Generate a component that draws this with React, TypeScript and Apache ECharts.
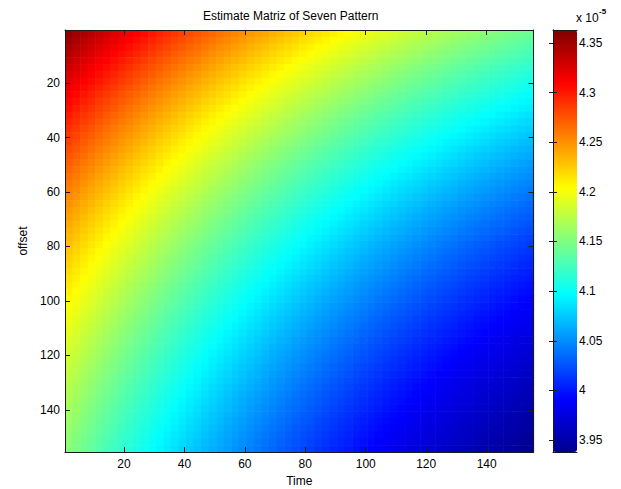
import React, { useEffect, useRef } from "react";
import * as echarts from "echarts";

const chartTitle = "Estimate Matriz of Seven Pattern";
const xAxisName = "Time";
const yAxisName = "offset";

// Centres of the matrix cells (Time and offset share the same sampling; each cell spans 2.5 steps)
const cellSpan = 2.5;
const sampleCenters = [
  1.75, 4.25, 6.75, 9.25, 11.75, 14.25, 16.75, 19.25, 21.75, 24.25,
  26.75, 29.25, 31.75, 34.25, 36.75, 39.25, 41.75, 44.25, 46.75, 49.25,
  51.75, 54.25, 56.75, 59.25, 61.75, 64.25, 66.75, 69.25, 71.75, 74.25,
  76.75, 79.25, 81.75, 84.25, 86.75, 89.25, 91.75, 94.25, 96.75, 99.25,
  101.75, 104.25, 106.75, 109.25, 111.75, 114.25, 116.75, 119.25, 121.75, 124.25,
  126.75, 129.25, 131.75, 134.25, 136.75, 139.25, 141.75, 144.25, 146.75, 149.25,
  151.75, 154.25,
];

// Estimates (×1e-5) along the first row (top of the matrix), left to right in Time
const firstRow = [
  4.3556, 4.3502, 4.3449, 4.3397, 4.3346, 4.3295, 4.3245, 4.3196, 4.3148, 4.31,
  4.3054, 4.3008, 4.2962, 4.2917, 4.2873, 4.283, 4.2787, 4.2745, 4.2704, 4.2663,
  4.2623, 4.2584, 4.2545, 4.2507, 4.2469, 4.2432, 4.2395, 4.2359, 4.2324, 4.2289,
  4.2254, 4.2221, 4.2187, 4.2154, 4.2122, 4.209, 4.2059, 4.2028, 4.1998, 4.1968,
  4.1938, 4.1909, 4.1881, 4.1853, 4.1825, 4.1798, 4.1771, 4.1744, 4.1718, 4.1693,
  4.1667, 4.1643, 4.1618, 4.1594, 4.157, 4.1547, 4.1524, 4.1501, 4.1479, 4.1457,
  4.1435, 4.1414,
];

// Estimates (×1e-5) along the first column (left of the matrix), top to bottom in offset
const firstColumn = [
  4.3556, 4.3505, 4.3455, 4.3406, 4.3357, 4.331, 4.3263, 4.3217, 4.3171, 4.3126,
  4.3082, 4.3039, 4.2996, 4.2953, 4.2912, 4.2871, 4.2831, 4.2791, 4.2752, 4.2714,
  4.2676, 4.2639, 4.2602, 4.2566, 4.253, 4.2495, 4.2461, 4.2427, 4.2393, 4.236,
  4.2328, 4.2296, 4.2264, 4.2233, 4.2203, 4.2173, 4.2143, 4.2114, 4.2086, 4.2057,
  4.2029, 4.2002, 4.1975, 4.1949, 4.1922, 4.1897, 4.1871, 4.1846, 4.1822, 4.1798,
  4.1774, 4.175, 4.1727, 4.1704, 4.1682, 4.166, 4.1638, 4.1617, 4.1596, 4.1575,
  4.1555, 4.1535,
];

const axisTickValues = [20, 40, 60, 80, 100, 120, 140];
const colorTickValues = [3.95, 4, 4.05, 4.1, 4.15, 4.2, 4.25, 4.3, 4.35];
const colorMin = 3.938;
const colorMax = 4.363;
const axisMin = 0.5;
const axisMax = 155.5;

// jet colour map, evenly spaced stops
const jetColors = [
  "#000090", "#0000ff", "#0080ff", "#00ffff", "#80ff80",
  "#ffff00", "#ff8000", "#ff0000", "#800000",
];

const FONT = "'Liberation Sans', Arial, Helvetica, sans-serif";
const INK = "#000000";
const FRAME = "#1a1a1a";

// Matrix cells: the two profiles combine additively around the shared corner value
function buildCells(): number[][] {
  const cells: number[][] = [];
  const corner = firstRow[0];
  for (let i = 0; i < sampleCenters.length; i++) {
    for (let j = 0; j < sampleCenters.length; j++) {
      cells.push([sampleCenters[i], sampleCenters[j], firstRow[i] + firstColumn[j] - corner]);
    }
  }
  return cells;
}

export default function App() {
  const ref = useRef<HTMLDivElement>(null);

  useEffect(() => {
    if (!ref.current) return;
    const chart = echarts.init(ref.current, null, { renderer: "svg" });

    const labelStyle = { color: INK, fontFamily: FONT, fontSize: 12 };
    const frameLine = { show: true, lineStyle: { color: FRAME, width: 1 } };

    const mainX = (position: "bottom" | "top", withLabels: boolean) => ({
      type: "value",
      gridIndex: 0,
      position,
      min: axisMin,
      max: axisMax,
      z: 10,
      name: withLabels ? xAxisName : "",
      nameLocation: "middle",
      nameGap: 22,
      nameTextStyle: { ...labelStyle },
      axisLine: frameLine,
      axisTick: {
        show: true,
        inside: true,
        length: 5,
        customValues: axisTickValues,
        lineStyle: { color: FRAME },
      },
      axisLabel: {
        show: withLabels,
        margin: 6,
        customValues: axisTickValues,
        ...labelStyle,
      },
      splitLine: { show: false },
    });

    const mainY = (position: "left" | "right", withLabels: boolean) => ({
      type: "value",
      gridIndex: 0,
      position,
      inverse: true,
      min: axisMin,
      max: axisMax,
      z: 10,
      name: withLabels ? yAxisName : "",
      nameLocation: "middle",
      nameGap: 24,
      nameTextStyle: { ...labelStyle },
      axisLine: frameLine,
      axisTick: {
        show: true,
        inside: true,
        length: 5,
        customValues: axisTickValues,
        lineStyle: { color: FRAME },
      },
      axisLabel: {
        show: withLabels,
        margin: 5,
        customValues: axisTickValues,
        ...labelStyle,
      },
      splitLine: { show: false },
    });

    const barX = (position: "bottom" | "top") => ({
      type: "value",
      gridIndex: 1,
      position,
      min: 0,
      max: 1,
      z: 10,
      axisLine: frameLine,
      axisTick: { show: false },
      axisLabel: { show: false },
      splitLine: { show: false },
    });

    const barY = (position: "left" | "right", withLabels: boolean) => ({
      type: "value",
      gridIndex: 1,
      position,
      min: colorMin,
      max: colorMax,
      z: 10,
      axisLine: frameLine,
      axisTick: {
        show: true,
        inside: true,
        length: 4,
        customValues: colorTickValues,
        lineStyle: { color: FRAME },
      },
      axisLabel: {
        show: withLabels,
        margin: 2,
        customValues: colorTickValues,
        formatter: (v: number) => String(v),
        ...labelStyle,
      },
      splitLine: { show: false },
    });

    chart.setOption({
      animation: false,
      backgroundColor: "#ffffff",
      title: {
        text: chartTitle,
        left: 203,
        top: 10,
        padding: 0,
        textStyle: { color: INK, fontFamily: FONT, fontSize: 12, fontWeight: "normal" },
      },
      grid: [
        { left: 65, top: 30, width: 468.5, height: 422, outerBoundsMode: "none", containLabel: false },
        { left: 553, top: 30, width: 24, height: 422, outerBoundsMode: "none", containLabel: false },
      ],
      xAxis: [mainX("bottom", true), mainX("top", false), barX("bottom"), barX("top")],
      yAxis: [mainY("left", true), mainY("right", false), barY("right", true), barY("left", false)],
      visualMap: {
        type: "continuous",
        seriesIndex: 0,
        dimension: 2,
        min: colorMin,
        max: colorMax,
        calculable: false,
        orient: "vertical",
        left: 553,
        top: 30,
        itemWidth: 24,
        itemHeight: 422,
        padding: 0,
        text: ["", ""],
        inRange: { color: jetColors },
        hoverLink: false,
      },
      graphic: [
        {
          type: "text",
          left: 576,
          top: 12,
          style: { text: "x 10", fill: INK, font: `12px ${FONT}` },
        },
        {
          type: "text",
          left: 599,
          top: 7,
          style: { text: "-5", fill: INK, font: `bold 8px ${FONT}` },
        },
      ],
      series: [
        {
          type: "custom",
          xAxisIndex: 0,
          yAxisIndex: 0,
          clip: true,
          data: buildCells(),
          encode: { x: 0, y: 1 },
          renderItem: (_params: any, api: any) => {
            const t = api.value(0);
            const o = api.value(1);
            const p0 = api.coord([t - cellSpan / 2, o - cellSpan / 2]);
            const p1 = api.coord([t + cellSpan / 2, o + cellSpan / 2]);
            const x = Math.min(p0[0], p1[0]);
            const y = Math.min(p0[1], p1[1]);
            return {
              type: "rect",
              shape: {
                x,
                y,
                width: Math.abs(p1[0] - p0[0]) + 0.6,
                height: Math.abs(p1[1] - p0[1]) + 0.6,
              },
              style: { fill: api.visual("color") },
            };
          },
        },
      ],
    });

    return () => chart.dispose();
  }, []);

  return (
    <div
      ref={ref}
      style={{ position: "absolute", left: 0, top: 0, width: 621, height: 489 }}
    />
  );
}
